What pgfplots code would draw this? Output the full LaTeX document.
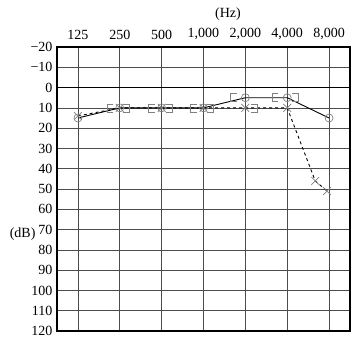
\documentclass[border=0pt]{standalone}
\usepackage{fontspec}
\setmainfont{Liberation Serif}
\usepackage{pgfplots}
\pgfplotsset{compat=1.18}
\pgfdeclareplotmark{lbr}{%
  \pgfpathmoveto{\pgfqpoint{0.8\pgfplotmarksize}{\pgfplotmarksize}}%
  \pgfpathlineto{\pgfqpoint{-0.8\pgfplotmarksize}{\pgfplotmarksize}}%
  \pgfpathlineto{\pgfqpoint{-0.8\pgfplotmarksize}{-\pgfplotmarksize}}%
  \pgfpathlineto{\pgfqpoint{0.8\pgfplotmarksize}{-\pgfplotmarksize}}%
  \pgfusepathqstroke}
\pgfdeclareplotmark{rbr}{%
  \pgfpathmoveto{\pgfqpoint{-0.8\pgfplotmarksize}{\pgfplotmarksize}}%
  \pgfpathlineto{\pgfqpoint{0.8\pgfplotmarksize}{\pgfplotmarksize}}%
  \pgfpathlineto{\pgfqpoint{0.8\pgfplotmarksize}{-\pgfplotmarksize}}%
  \pgfpathlineto{\pgfqpoint{-0.8\pgfplotmarksize}{-\pgfplotmarksize}}%
  \pgfusepathqstroke}
\definecolor{mk}{gray}{0.5}
\begin{document}
\begin{tikzpicture}
\begin{axis}[
  scale only axis,
  width=293pt, height=284pt,
  xmin=-0.5, xmax=6.5,
  ymin=-20, ymax=120,
  y dir=reverse,
  xtick={0,1,2,3,4,5,6},
  xticklabels={125,250,500,{1,000},{2,000},{4,000},{8,000}},
  xticklabel pos=right,
  ytick={-20,-10,0,10,20,30,40,50,60,70,80,90,100,110,120},
  yticklabels={−20,−10,0,10,20,30,40,50,60,70,80,90,100,110,120},
  major tick length=0pt,
  grid=major,
  grid style={black!70, line width=0.6pt},
  axis line style={line width=1.3pt},
  tick label style={font=\fontsize{14}{16}\selectfont},
  xticklabel style={yshift=4pt},
  yticklabel style={xshift=-1pt},
  clip=false,
]
\draw[line width=1.4pt] (axis cs:-0.5,0) -- (axis cs:6.5,0);
% air conduction, circles, solid
\addplot[black, line width=0.9pt, mark=o, mark size=4pt, mark options={mk, solid, line width=0.7pt}]
  coordinates {(0,15) (1,10) (2,10) (3,10) (4,5) (5,5) (6,15)};
% crosses, dashed
\addplot[black, line width=0.9pt, dashed, mark=x, mark size=5.5pt, mark options={mk, solid, line width=0.7pt}]
  coordinates {(0,14) (1,10) (2,10) (3,10) (4,10) (5,10) (5.67,46) (5.95,51)};
% bone conduction brackets
\addplot[only marks, mark=lbr, mark size=4pt, mark options={mk, line width=0.7pt}]
  coordinates {(0.77,10) (1.77,10) (2.77,10) (3.72,5) (4.71,5)};
\addplot[only marks, mark=rbr, mark size=4pt, mark options={mk, line width=0.7pt}]
  coordinates {(1.16,10) (2.17,10) (3.17,10) (4.21,10) (5.2,5)};
\end{axis}
\node[font=\fontsize{14}{16}\selectfont] at (171pt,317pt) {(Hz)};
\node[font=\fontsize{14}{16}\selectfont, anchor=east] at (-18pt,97pt) {(dB)};
\path (-57pt,-10pt) rectangle (301pt,331pt);
\end{tikzpicture}
\end{document}
